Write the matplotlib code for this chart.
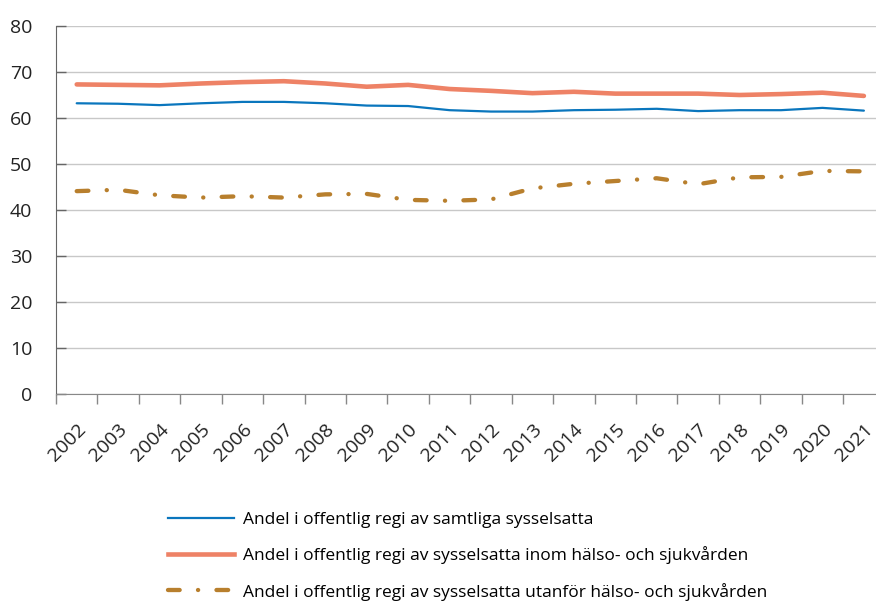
import matplotlib.pyplot as plt
from matplotlib.lines import Line2D
from matplotlib.transforms import ScaledTranslation

plt.rcParams['font.family'] = ['Open Sans', 'DejaVu Sans']
plt.rcParams['lines.scale_dashes'] = False

years = ['2002', '2003', '2004', '2005', '2006', '2007', '2008', '2009', '2010', '2011',
         '2012', '2013', '2014', '2015', '2016', '2017', '2018', '2019', '2020', '2021']

samtliga = [63.2, 63.1, 62.8, 63.2, 63.5, 63.5, 63.2, 62.7, 62.6, 61.7,
            61.4, 61.4, 61.7, 61.8, 62.0, 61.5, 61.7, 61.7, 62.2, 61.6]
inom = [67.3, 67.2, 67.1, 67.5, 67.8, 68.0, 67.5, 66.8, 67.2, 66.3,
        65.9, 65.4, 65.7, 65.3, 65.3, 65.3, 65.0, 65.2, 65.5, 64.8]
utanfor = [44.1, 44.4, 43.2, 42.7, 43.0, 42.7, 43.4, 43.5, 42.2, 42.0,
           42.3, 44.7, 45.7, 46.3, 46.9, 45.6, 47.1, 47.2, 48.5, 48.4]

labels = ['Andel i offentlig regi av samtliga sysselsatta',
          'Andel i offentlig regi av sysselsatta inom hälso- och sjukvården',
          'Andel i offentlig regi av sysselsatta utanför hälso- och sjukvården']

blue = '#0a76bd'
orange = '#ee8266'
brown = '#b87f2d'
dashdot = (8.4, 13.2, 0.1, 13.2)


def createPlot():
    fig = plt.figure(figsize=(8.76, 6.02), dpi=100)
    W, H = 876, 602
    left, right, top, bottom = 56, 884.6, 26, 394
    ax = fig.add_axes([left / W, 1 - bottom / H, (right - left) / W, (bottom - top) / H])

    x = list(range(len(years)))
    ax.plot(x, samtliga, color=blue, lw=1.6, solid_capstyle='round', zorder=3)
    ax.plot(x, inom, color=orange, lw=3.3, solid_capstyle='round', zorder=3)
    ax.plot(x, utanfor, color=brown, lw=3.1, dashes=dashdot,
            dash_capstyle='round', zorder=3)

    ax.set_xlim(-0.5, len(years) - 0.5)
    ax.set_ylim(0, 80)
    ax.set_yticks(range(0, 81, 10))
    ax.grid(axis='y', color='#c8c8c8', lw=1)
    ax.set_axisbelow(True)

    ax.set_xticks([i - 0.5 for i in x])
    ax.set_xticklabels([])
    ax.set_xticks(x, minor=True)
    ax.set_xticklabels(years, minor=True, rotation=45, ha='right', va='top',
                       rotation_mode='anchor', fontsize=14, color='#222222')
    shift = ScaledTranslation(2 / 100, 0, fig.dpi_scale_trans)
    for lab in ax.get_xticklabels(minor=True):
        lab.set_transform(lab.get_transform() + shift)
    ax.tick_params(axis='x', which='major', length=7, color='#888888', width=1)
    ax.tick_params(axis='x', which='minor', length=0, pad=19)
    ax.tick_params(axis='y', direction='in', length=7, color='#666666', width=1,
                   labelsize=14, labelcolor='#222222', pad=17)

    for s in ['top', 'right']:
        ax.spines[s].set_visible(False)
    ax.spines['left'].set_color('#666666')
    ax.spines['bottom'].set_color('#888888')

    handles = [Line2D([], [], color=blue, lw=1.6),
               Line2D([], [], color=orange, lw=3.3),
               Line2D([], [], color=brown, lw=3.1, dashes=dashdot, dash_capstyle='round')]
    fig.legend(handles, labels, loc='upper left', bbox_to_anchor=(168 / W, 1 - 512 / H),
               frameon=False, fontsize=12.5, handlelength=3.8, handletextpad=0.5,
               labelspacing=1.05, borderaxespad=0, borderpad=0)

    fig.savefig('out.png', dpi=100)


def main():
    createPlot()


if __name__ == "__main__":
    main()
